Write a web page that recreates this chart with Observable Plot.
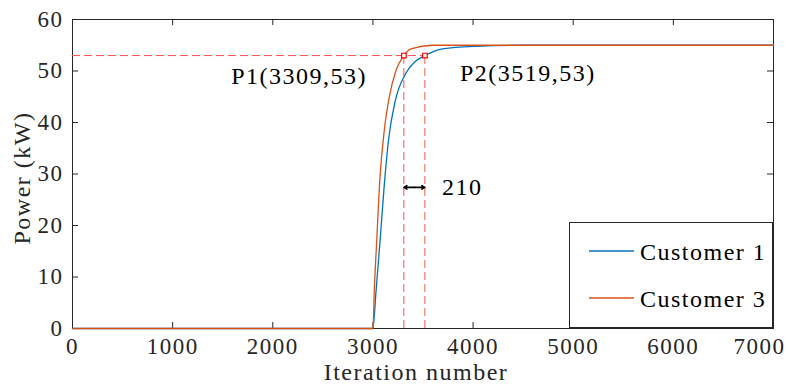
<!DOCTYPE html>
<html><head><meta charset="utf-8">
<script src="https://cdn.jsdelivr.net/npm/d3@7"></script>
<script src="https://cdn.jsdelivr.net/npm/@observablehq/plot@0.6"></script>
<style>body{margin:0;background:#fff}</style>
</head><body><div id="chart"></div>
<script>
// ---- data ----
const iterC1  = [0, 3000, 3030, 3070, 3113, 3157, 3223, 3330, 3420, 3519, 3697, 4030, 4500, 7000];
const powerC1 = [0, 0,    7,    16.7, 27.8, 36.8, 44.2, 49.6, 51.8, 53,   54.3, 54.8, 55,   55];
const iterC3  = [0, 3000, 3015, 3037, 3070, 3113, 3163, 3230, 3309, 3380, 3597, 4000, 7000];
const powerC3 = [0, 0,    8,    16.7, 29.2, 38.4, 44.9, 50.1, 53,   54.3, 55,   55,   55];
const seriesNames = ["Customer 1", "Customer 3"];
const seriesColors = ["#0072BD", "#D95319"];
const xTicks = [0, 1000, 2000, 3000, 4000, 5000, 6000, 7000];
const yTicks = [0, 10, 20, 30, 40, 50, 60];
const points = [{name: "P1", x: 3309, y: 53}, {name: "P2", x: 3519, y: 53}];
const gapValue = 210;
const arrowLevel = 27.4;
const labelPos = [{x: 2263, y: 48.9}, {x: 4547, y: 49.6}];
const gapLabelPos = {x: 3690, y: 27.4};
const xLabel = "Iteration number";
const yLabel = "Power (kW)";

const c1 = iterC1.map((x, i) => ({x, y: powerC1[i]}));
const c3 = iterC3.map((x, i) => ({x, y: powerC3[i]}));
const labels = points.map((p, i) => ({...labelPos[i], text: `${p.name}(${p.x},${p.y})`}));
const mid = (points[0].x + points[1].x) / 2;
const arrows = points.map(p => ({x1: mid, x2: p.x}));

const dash = {stroke: "#ff5050", strokeDasharray: "8,4", strokeWidth: 1};
const font = "'Liberation Serif', 'Times New Roman', Times, serif";
const W = 788, H = 385, mL = 72, mR = 15, mT = 19, mB = 57;
const frameW = W - mL - mR, frameH = H - mT - mB, tickLen = 6;
const axisColor = "#262626";
const lastTick = xTicks[xTicks.length - 1];

const plot = Plot.plot({
  width: W, height: H,
  marginLeft: mL, marginRight: mR, marginTop: mT, marginBottom: mB,
  x: {domain: [0, 7000]},
  y: {domain: [0, 60]},
  style: {fontFamily: font, fontSize: "23px", color: axisColor, background: "white", letterSpacing: "1.5px"},
  marks: [
    Plot.frame({stroke: axisColor, strokeWidth: 1}),
    Plot.axisX({ticks: xTicks.slice(0, -1), anchor: "bottom", tickSize: 0, tickPadding: 9, label: null, fontSize: 23, tickFormat: d => String(d)}),
    Plot.axisX({ticks: [lastTick], anchor: "bottom", tickSize: 0, tickPadding: 9, label: null, fontSize: 23, tickFormat: d => String(d), dx: -14}),
    Plot.axisY({ticks: yTicks, anchor: "left", tickSize: 0, tickPadding: 9, label: null, fontSize: 23, tickFormat: d => String(d)}),
    // inward ticks on all four sides
    Plot.tickX(xTicks, {x: d => d, insetTop: frameH - tickLen, stroke: axisColor}),
    Plot.tickX(xTicks, {x: d => d, insetBottom: frameH - tickLen, stroke: axisColor}),
    Plot.tickY(yTicks, {y: d => d, insetRight: frameW - tickLen, stroke: axisColor}),
    Plot.tickY(yTicks, {y: d => d, insetLeft: frameW - tickLen, stroke: axisColor}),
    Plot.ruleY([points[1]], {y: "y", x1: 0, x2: "x", ...dash}),
    Plot.ruleX(points, {x: "x", y1: 0, y2: "y", ...dash}),
    Plot.line(c1, {x: "x", y: "y", stroke: seriesColors[0], strokeWidth: 1.3, curve: "monotone-x"}),
    Plot.line(c3, {x: "x", y: "y", stroke: seriesColors[1], strokeWidth: 1.3, curve: "monotone-x"}),
    Plot.dot(points, {x: "x", y: "y", symbol: "square", r: 2.6, stroke: "#ff0000", strokeWidth: 1.2, fill: "white"}),
    Plot.arrow(arrows, {x1: "x1", x2: "x2", y1: arrowLevel, y2: arrowLevel, stroke: "black", strokeWidth: 1.6, headLength: 8, bend: false}),
    Plot.text(labels, {x: "x", y: "y", text: "text", fontSize: 24, fill: "black"}),
    Plot.text([gapValue], {x: gapLabelPos.x, y: gapLabelPos.y, text: d => String(d), textAnchor: "start", fontSize: 24, fill: "black"}),
    Plot.text([xLabel], {frameAnchor: "bottom", textAnchor: "middle", dx: -7, dy: 51, text: d => d, fontSize: 24, fill: axisColor}),
    Plot.text([yLabel], {frameAnchor: "left", textAnchor: "middle", dx: -50, dy: 4, rotate: -90, text: d => d, fontSize: 24, fill: axisColor})
  ]
});

// legend box (inside the axes, bottom-right)
const svg = d3.select(plot);
const g = svg.append("g").attr("font-family", font).attr("font-size", 24).attr("text-anchor", "start");
g.append("rect").attr("x", 569.5).attr("y", 222.5).attr("width", 203).attr("height", 105)
  .attr("fill", "white").attr("stroke", axisColor);
seriesNames.forEach((name, i) => {
  const cy = 251 + i * 47;
  g.append("line").attr("x1", 589).attr("x2", 634).attr("y1", cy).attr("y2", cy)
    .attr("stroke", seriesColors[i]).attr("stroke-width", 1.3);
  g.append("text").attr("x", 640).attr("y", cy + 9).attr("fill", "black").text(name);
});
document.getElementById("chart").appendChild(plot);
</script>
</body></html>
